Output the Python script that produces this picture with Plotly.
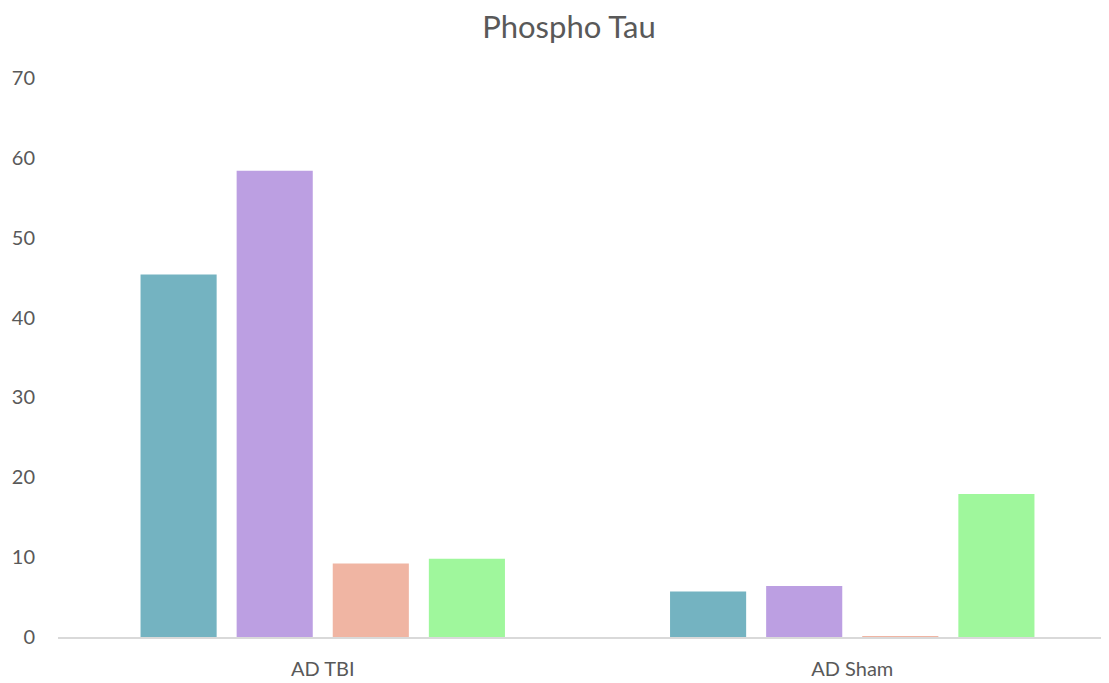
import plotly.graph_objects as go

categories = ["AD TBI", "AD Sham"]
series_names = ["Series 1", "Series 2", "Series 3", "Series 4"]
series_1 = [45.4, 5.7]
series_2 = [58.4, 6.4]
series_3 = [9.2, 0.05]
series_4 = [9.8, 17.9]
colors = ["#74b3c1", "#bc9fe2", "#f0b5a3", "#9ff79c"]
y_ticks = [0, 10, 20, 30, 40, 50, 60, 70]

fig = go.Figure()
for name, vals, col in zip(series_names, [series_1, series_2, series_3, series_4], colors):
    fig.add_trace(go.Bar(x=categories, y=vals, name=name, marker_color=col,
                         marker_line_width=0))

# page body has an 8px margin, so the margins below are shifted by that much
font_family = "Lato, 'Open Sans', sans-serif"
fig.update_layout(
    width=1109, height=683,
    margin=dict(l=50, r=0, t=70, b=54),
    paper_bgcolor="white", plot_bgcolor="white",
    barmode="group", bargap=0.274, bargroupgap=0.208,
    showlegend=False,
    font=dict(family=font_family, color="#595959", size=20),
    title=dict(text="Phospho Tau", x=0.4825, xref="paper", xanchor="center",
               y=0.9722, yref="container", yanchor="middle",
               font=dict(size=31, color="#595959", family=font_family)),
    xaxis=dict(range=[-0.5, 1.5], showline=True, linecolor="#d9d9d9", linewidth=2,
               showgrid=False, ticks="", ticklabelstandoff=13),
    yaxis=dict(range=[0, 70], tickvals=y_ticks, showgrid=False, zeroline=False,
               showline=False, ticks="", ticklabelstandoff=22),
)

fig.write_html("out.html")
